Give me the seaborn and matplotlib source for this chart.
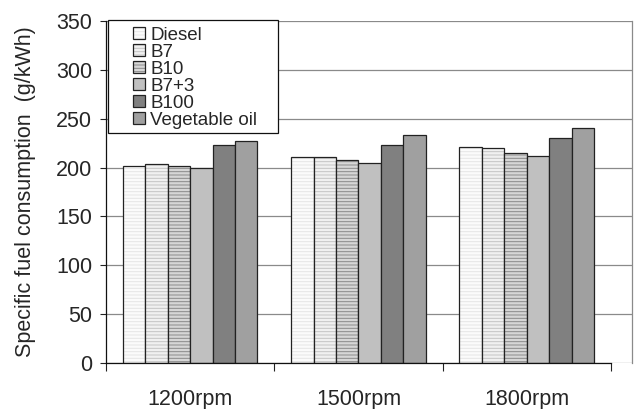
import matplotlib
matplotlib.use("Agg")
import matplotlib.pyplot as plt
from matplotlib.colors import to_rgba
from matplotlib.patches import Rectangle
import seaborn as sns
import pandas as pd

categories = ["1200rpm", "1500rpm", "1800rpm"]
fuels = ["Diesel", "B7", "B10", "B7+3", "B100", "Vegetable oil"]
diesel = [202, 211, 221]
b7 = [204, 211, 220]
b10 = [202, 208, 215]
b7_3 = [200, 205, 212]
b100 = [223, 223, 230]
veg_oil = [227, 233, 240]
yticks = [0, 50, 100, 150, 200, 250, 300, 350]

series = [diesel, b7, b10, b7_3, b100, veg_oil]
rows = []
for f, vals in zip(fuels, series):
    for c, v in zip(categories, vals):
        rows.append({"rpm": c, "fuel": f, "sfc": v})
df = pd.DataFrame(rows)

face = ["#fbfbfb", "#f0f0f0", "#d6d6d6", "#c0c0c0", "#808080", "#a0a0a0"]
hatchcol = ["#e6e6e6", "#c4c4c4", "#8a8a8a", None, None, None]

sns.set_theme(style="white")
plt.rcParams["font.family"] = ["Liberation Sans", "DejaVu Sans"]
plt.rcParams["hatch.linewidth"] = 0.7

fig = plt.figure(figsize=(6.34, 4.09), dpi=100)
ax = fig.add_axes([106 / 634, (409 - 363) / 409, 526 / 634, 342 / 409])

sns.barplot(data=df, x="rpm", y="sfc", hue="fuel", order=categories,
            hue_order=fuels, palette=face, width=0.8, ax=ax,
            edgecolor="#222222", linewidth=0.9, saturation=1, legend=False)

for i, cont in enumerate(ax.containers):
    for p in cont.patches:
        p.set_facecolor(face[i])
        p.set_edgecolor("#222222")
        if hatchcol[i] is not None:
            p.set_hatch("-----")
            if hasattr(p, "set_hatchcolor"):
                p.set_hatchcolor(hatchcol[i])
            else:
                p._hatch_color = to_rgba(hatchcol[i])

ax.set_ylim(0, 350)
ax.set_xlim(-0.5, 2.5 + 21 / (505 / 3))
ax.set_yticks(yticks)
ax.set_yticklabels([str(t) for t in yticks], fontsize=15.5)
ax.yaxis.grid(True, color="#8a8a8a", linewidth=0.9)
ax.set_axisbelow(True)
ax.tick_params(axis="y", which="major", direction="out", length=4, width=0.8,
               color="#222222", pad=6, left=True)

ax.set_xticks([0, 1, 2])
ax.set_xticklabels(categories, fontsize=15.5)
ax.set_xticks([-0.5, 0.5, 1.5, 2.5], minor=True)
ax.tick_params(axis="x", which="major", length=0, pad=19)
ax.tick_params(axis="x", which="minor", direction="out", length=6, width=0.8,
               color="#222222", bottom=True)

ax.set_xlabel("")
ax.set_ylabel("Specific fuel consumption  (g/kWh)", fontsize=15.5, labelpad=14)

for s in ["left", "bottom"]:
    ax.spines[s].set_color("#111111")
    ax.spines[s].set_linewidth(0.9)
ax.spines["bottom"].set_bounds(-0.5, 2.5)
ax.spines["top"].set_visible(False)
ax.spines["right"].set_color("#8a8a8a")
ax.spines["right"].set_linewidth(0.9)

handles = [cont.patches[0] for cont in ax.containers]
leg = ax.legend(handles, fuels, loc="upper left",
                bbox_to_anchor=((133 - 106) / 526, (363 - 27) / 342),
                frameon=False, fontsize=13.5, borderpad=0, borderaxespad=0,
                handlelength=0.62, handleheight=0.62, handletextpad=0.3,
                labelspacing=0.0)
frame = Rectangle(((108 - 106) / 526, (363 - 133) / 342), 170 / 526, 113 / 342,
                  transform=ax.transAxes, facecolor="white", edgecolor="#111111",
                  linewidth=0.9, zorder=4, clip_on=False)
ax.add_patch(frame)
leg.set_zorder(5)

fig.savefig("out.png", dpi=100)
